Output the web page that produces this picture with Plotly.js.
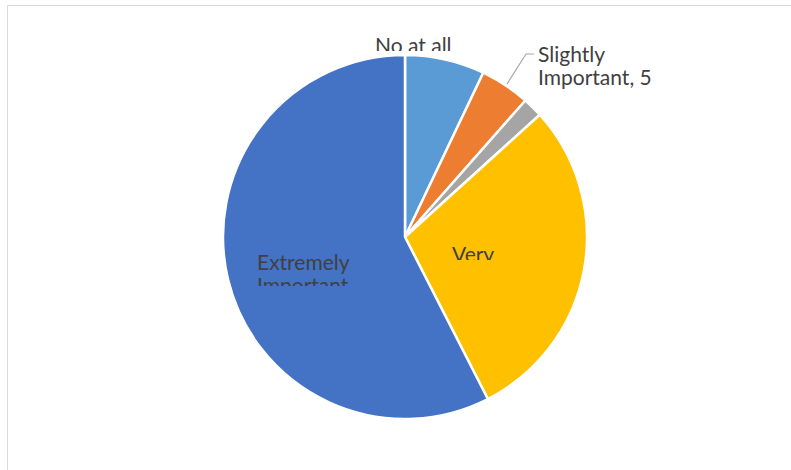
<!DOCTYPE html>
<html>
<head>
<meta charset="utf-8">
<script src="https://cdn.plot.ly/plotly-3.0.1.min.js"></script>
<style>html,body{margin:0;padding:0;background:#fff;}#chart{width:791px;height:470px;}</style>
</head>
<body>
<div id="chart"></div>
<script>
// Data (counts; "Slightly Important" labelled 5)
const categories = ["No at all", "Slightly Important", "Moderately Important", "Very Important", "Extremely Important"];
const counts = [8, 5, 2, 33, 65];
const colors = ["#5B9BD5", "#ED7D31", "#A5A5A5", "#FFC000", "#4472C4"];

const W = 791, H = 470;
const px = x => x / W;
const py = y => 1 - y / H;

const cx = 405, cy = 237, R = 182;

const trace = {
  type: "pie",
  labels: categories,
  values: counts,
  sort: false,
  direction: "clockwise",
  rotation: 0,
  marker: {colors: colors, line: {color: "#ffffff", width: 2.5}},
  textinfo: "none",
  hoverinfo: "label+value",
  showlegend: false,
  domain: {x: [px(cx - R), px(cx + R)], y: [py(cy + R), py(cy - R)]}
};

const font = {family: "Lato, 'Open Sans', sans-serif", size: 21, color: "#404040"};

const annotations = [
  {text: categories[0], x: px(413), y: py(31), xanchor: "center", yanchor: "top", height: 19, valign: "top"},
  {text: "Slightly", x: px(537), y: py(40), xanchor: "left", yanchor: "top", align: "left"},
  {text: "Important, " + counts[1], x: px(537), y: py(63), xanchor: "left", yanchor: "top", align: "left"},
  {text: "Very", x: px(473), y: py(240), xanchor: "center", yanchor: "top", height: 19, valign: "top"},
  {text: "Extremely", x: px(303), y: py(248), xanchor: "center", yanchor: "top"},
  {text: "Important", x: px(303), y: py(271), xanchor: "center", yanchor: "top", height: 14, valign: "top"}
].map(a => Object.assign({xref: "paper", yref: "paper", showarrow: false, font: font, borderpad: 0}, a));

const shapes = [
  {type: "rect", xref: "paper", yref: "paper", x0: px(7.5), x1: px(820), y0: py(500), y1: py(5.5),
   line: {color: "#D9D9D9", width: 1}, fillcolor: "rgba(0,0,0,0)"},
  {type: "path", xref: "paper", yref: "paper",
   path: `M ${px(507)} ${py(84)} L ${px(526)} ${py(54)} L ${px(534)} ${py(54)}`,
   line: {color: "#A6A6A6", width: 1.2}}
];

const layout = {
  width: W, height: H,
  margin: {l: 0, r: 0, t: 0, b: 0},
  paper_bgcolor: "#ffffff",
  plot_bgcolor: "#ffffff",
  showlegend: false,
  annotations: annotations,
  shapes: shapes
};

Plotly.newPlot("chart", [trace], layout, {displayModeBar: false, staticPlot: true});
</script>
</body>
</html>
